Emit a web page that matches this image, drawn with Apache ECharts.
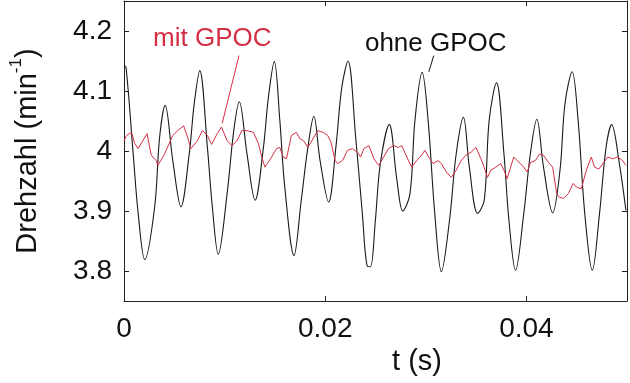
<!DOCTYPE html>
<html>
<head>
<meta charset="utf-8">
<script src="https://cdn.jsdelivr.net/npm/echarts@6/dist/echarts.min.js"></script>
<style>html,body{margin:0;padding:0;background:#fff}#c{width:630px;height:383px}</style>
</head>
<body>
<div id="c"></div>
<script>
// ---- data (time in s, speed in min^-1) ----
const ohneT = [0.00000,0.00020,0.00091,0.00141,0.00206,0.00305,0.00354,0.00409,0.00485,0.00566,0.00649,0.00698,0.00753,0.00829,0.00878,0.00937,0.01025,0.01091,0.01146,0.01222,0.01303,0.01386,0.01435,0.01494,0.01549,0.01598,0.01690,0.01762,0.01828,0.01887,0.01949,0.02034,0.02106,0.02165,0.02227,0.02303,0.02369,0.02418,0.02450,0.02499,0.02548,0.02637,0.02713,0.02771,0.02843,0.02892,0.02964,0.03023,0.03089,0.03155,0.03236,0.03302,0.03374,0.03433,0.03515,0.03581,0.03630,0.03703,0.03777,0.03826,0.03892,0.03974,0.04039,0.04104,0.04170,0.04261,0.04334,0.04383,0.04455,0.04514,0.04580,0.04655,0.04727,0.04792,0.04848,0.04924,0.04989];
const ohneV = [4.142,4.140,3.996,3.896,3.819,3.907,4.023,4.076,3.984,3.907,3.996,4.079,4.134,4.006,3.907,3.828,3.929,4.034,4.082,3.996,3.918,4.006,4.089,4.149,4.051,3.940,3.826,3.918,4.006,4.058,3.984,3.915,4.006,4.106,4.150,4.023,3.896,3.808,3.807,3.885,3.979,4.044,3.951,3.900,3.929,4.051,4.131,4.051,3.896,3.799,3.885,3.995,4.056,3.973,3.896,3.918,4.051,4.114,3.995,3.885,3.801,3.896,3.995,4.053,3.973,3.897,3.968,4.078,4.132,4.051,3.896,3.801,3.896,4.006,4.044,3.979,3.901];

const mitT = [0.00000,0.00026,0.00075,0.00108,0.00141,0.00229,0.00271,0.00320,0.00337,0.00403,0.00485,0.00534,0.00593,0.00632,0.00664,0.00730,0.00779,0.00829,0.00871,0.00927,0.00969,0.01025,0.01074,0.01123,0.01172,0.01222,0.01287,0.01337,0.01369,0.01401,0.01425,0.01467,0.01516,0.01549,0.01582,0.01615,0.01664,0.01713,0.01752,0.01785,0.01828,0.01877,0.01926,0.01981,0.02025,0.02057,0.02099,0.02123,0.02172,0.02221,0.02270,0.02319,0.02352,0.02384,0.02433,0.02467,0.02483,0.02532,0.02581,0.02630,0.02679,0.02728,0.02762,0.02811,0.02860,0.02909,0.02958,0.02991,0.03040,0.03072,0.03121,0.03155,0.03204,0.03253,0.03302,0.03351,0.03400,0.03450,0.03499,0.03548,0.03580,0.03613,0.03646,0.03695,0.03744,0.03777,0.03809,0.03843,0.03875,0.03908,0.03941,0.03974,0.04008,0.04041,0.04088,0.04131,0.04170,0.04219,0.04261,0.04301,0.04327,0.04367,0.04417,0.04465,0.04497,0.04546,0.04596,0.04645,0.04678,0.04720,0.04760,0.04809,0.04858,0.04907,0.04956,0.04989];
const mitV = [4.017,4.026,4.031,4.012,4.004,4.029,3.993,3.984,3.976,3.995,4.026,4.034,4.042,4.023,4.004,4.017,4.034,4.026,4.011,4.029,4.040,4.017,4.009,4.017,4.034,4.034,4.031,4.012,3.990,3.973,3.979,3.990,4.004,4.006,3.990,3.987,4.026,4.031,4.020,4.017,4.006,4.020,4.034,4.031,4.026,4.015,3.984,3.979,3.984,4.001,4.004,3.998,3.990,4.004,4.009,3.995,3.987,3.976,3.990,4.004,4.009,4.006,4.009,3.990,3.973,3.984,3.993,4.001,3.987,3.979,3.984,3.979,3.965,3.956,3.968,3.984,3.993,3.998,4.006,3.987,3.973,3.956,3.968,3.973,3.979,3.968,3.954,3.973,3.990,3.984,3.979,3.973,3.965,3.981,3.984,3.995,3.993,3.981,3.973,3.929,3.923,3.921,3.929,3.946,3.940,3.937,3.968,3.990,3.973,3.970,3.979,3.990,3.987,3.990,3.984,3.976];

const xTicks = [0, 0.02, 0.04];
const yTicks = [3.8, 3.9, 4.0, 4.1, 4.2];
const seriesNames = ['ohne GPOC', 'mit GPOC'];
// annotation anchors in data coordinates: [label t, label v, line start t, v, line end t, v]
const annotMit = [0.00878, 4.187, 0.01143, 4.159, 0.00976, 4.046];
const annotOhne = [0.03099, 4.179, 0.03079, 4.159, 0.03030, 4.132];

const RED = '#d42f45';
const FONT = '"Liberation Sans", Arial, Helvetica, sans-serif';

function zip(a, b) { return a.map((v, i) => [v, b[i]]); }
function inList(list, v) { return list.some(t => Math.abs(t - v) < 1e-9); }

const chart = echarts.init(document.getElementById('c'), null, {renderer: 'canvas'});
const axisLineStyle = {color: '#222', width: 1};
chart.setOption({
  animation: false,
  backgroundColor: '#fff',
  grid: {left: 121, right: 2, top: 1, bottom: 82},
  xAxis: [{
    type: 'value', min: 0, max: 0.05, interval: 0.02,
    axisLine: {show: true, onZero: false, lineStyle: axisLineStyle},
    axisTick: {show: true, inside: true, length: 5, lineStyle: axisLineStyle},
    splitLine: {show: false},
    axisLabel: {
      color: '#111', fontSize: 28, fontFamily: FONT, margin: 14,
      formatter: v => inList(xTicks, v) ? String(+v.toFixed(2)) : ''
    },
    name: 't (s)', nameLocation: 'middle', nameGap: 45,
    nameTextStyle: {color: '#111', fontSize: 29, fontFamily: FONT, padding: [0, 0, 0, 83]}
  }, {
    type: 'value', position: 'top', min: 0, max: 0.05, interval: 0.02,
    axisLine: {show: true, onZero: false, lineStyle: axisLineStyle},
    axisTick: {show: true, inside: true, length: 5, lineStyle: axisLineStyle},
    axisLabel: {show: false}, splitLine: {show: false}
  }],
  yAxis: [{
    type: 'value', min: 3.75, max: 4.25, splitNumber: 5,
    axisLine: {show: true, onZero: false, lineStyle: axisLineStyle},
    axisTick: {show: true, inside: true, length: 5, lineStyle: axisLineStyle},
    splitLine: {show: false},
    axisLabel: {
      color: '#111', fontSize: 28, fontFamily: FONT, margin: 12,
      formatter: v => inList(yTicks, v) ? String(+v.toFixed(1)) : ''
    },
    name: '{a|Drehzahl (min}{s|-1}{a|)}', nameLocation: 'middle', nameGap: 82, nameRotate: 90,
    nameTextStyle: {
      color: '#111', fontFamily: FONT,
      rich: {
        a: {fontSize: 29, fontFamily: FONT, color: '#111', lineHeight: 34, verticalAlign: 'bottom'},
        s: {fontSize: 17, fontFamily: FONT, color: '#111', lineHeight: 34, verticalAlign: 'top', padding: [0, 0, 0, 0]}
      }
    }
  }, {
    type: 'value', position: 'right', min: 3.75, max: 4.25, splitNumber: 5,
    axisLine: {show: true, onZero: false, lineStyle: axisLineStyle},
    axisTick: {show: true, inside: true, length: 5, lineStyle: axisLineStyle},
    axisLabel: {show: false}, splitLine: {show: false}
  }],
  series: [{
    name: seriesNames[0], type: 'line', xAxisIndex: 0, yAxisIndex: 0,
    data: zip(ohneT, ohneV), showSymbol: false, smooth: 0.35,
    lineStyle: {color: '#1a1a1a', width: 1.1}, z: 2
  }, {
    name: seriesNames[1], type: 'line', xAxisIndex: 0, yAxisIndex: 0,
    data: zip(mitT, mitV), showSymbol: false, smooth: false,
    lineStyle: {color: RED, width: 1}, z: 3
  }]
});

function px(t, v) { return chart.convertToPixel({xAxisIndex: 0, yAxisIndex: 0}, [t, v]); }
function annot(a, label, color) {
  const p = px(a[0], a[1]), s = px(a[2], a[3]), e = px(a[4], a[5]);
  return [{
    type: 'text', z: 10,
    style: {text: label, x: p[0], y: p[1], fill: color, font: '26px ' + FONT, textAlign: 'center', textVerticalAlign: 'middle'}
  }, {
    type: 'line', z: 10,
    shape: {x1: s[0], y1: s[1], x2: e[0], y2: e[1]},
    style: {stroke: color, lineWidth: 1}
  }];
}
chart.setOption({graphic: [].concat(annot(annotMit, seriesNames[1], RED), annot(annotOhne, seriesNames[0], '#111'))});
</script>
</body>
</html>
